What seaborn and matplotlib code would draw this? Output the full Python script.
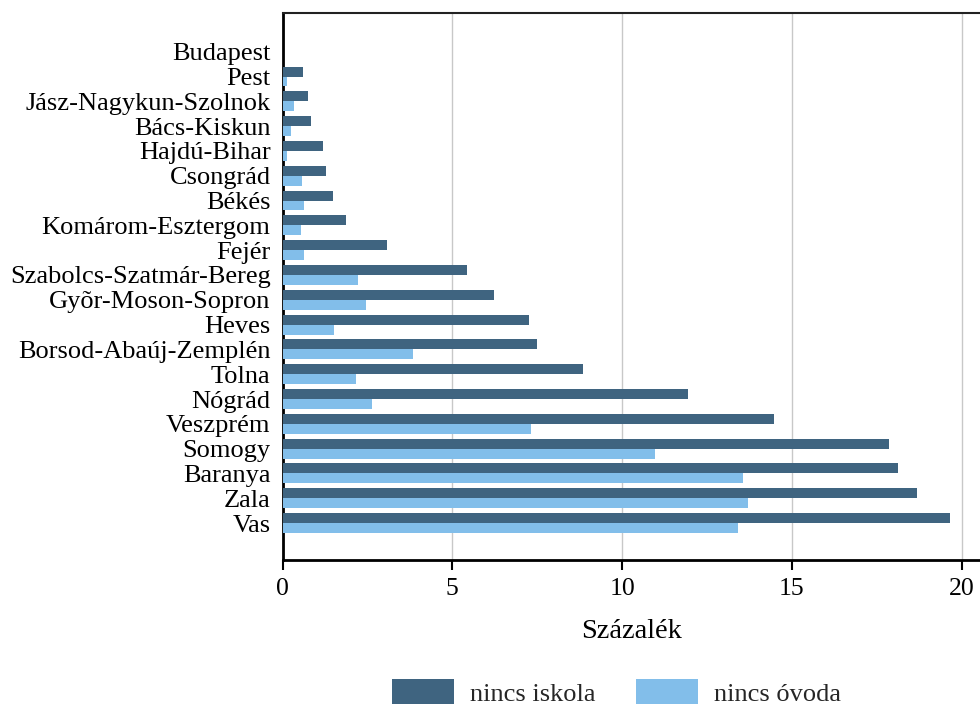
import matplotlib
matplotlib.use("Agg")
import matplotlib.pyplot as plt
import seaborn as sns
import pandas as pd

counties = ["Budapest", "Pest", "Jász-Nagykun-Szolnok", "Bács-Kiskun", "Hajdú-Bihar",
            "Csongrád", "Békés", "Komárom-Esztergom", "Fejér", "Szabolcs-Szatmár-Bereg",
            "Gyõr-Moson-Sopron", "Heves", "Borsod-Abaúj-Zemplén", "Tolna", "Nógrád",
            "Veszprém", "Somogy", "Baranya", "Zala", "Vas"]
nincs_iskola = [0.0, 0.60, 0.75, 0.84, 1.19, 1.28, 1.49, 1.87, 3.07, 5.43,
                6.23, 7.26, 7.49, 8.86, 11.94, 14.48, 17.86, 18.13, 18.68, 19.65]
nincs_ovoda = [0.0, 0.13, 0.34, 0.25, 0.13, 0.57, 0.63, 0.54, 0.64, 2.21,
               2.45, 1.52, 3.84, 2.16, 2.64, 7.32, 10.97, 13.56, 13.71, 13.40]
series_names = ["nincs iskola", "nincs óvoda"]
xticks = [0, 5, 10, 15, 20]
xlabel = "Százalék"

df = pd.DataFrame({
    "megye": counties * 2,
    "érték": nincs_iskola + nincs_ovoda,
    "sorozat": [series_names[0]] * len(counties) + [series_names[1]] * len(counties),
})

sns.set_theme(style="white")
plt.rcParams["font.family"] = ["Liberation Serif", "DejaVu Serif"]

fig = plt.figure(figsize=(9.8, 7.04), dpi=100)
ax = fig.add_axes([282.5 / 980, 1 - 560 / 704, 1 - 282.5 / 980, (560 - 13) / 704])

sns.barplot(data=df, x="érték", y="megye", hue="sorozat", orient="y",
            palette=["#3F6480", "#82BEEA"], width=0.8, saturation=1,
            linewidth=0, ax=ax, zorder=3)

ax.set_xlim(0, 20.54)
ax.set_ylim(20.49, -1.56)
ax.set_xticks(xticks)
ax.set_xticklabels([str(t) for t in xticks])
ax.set_xlabel(xlabel, fontsize=20.5, color="black", labelpad=14)
ax.set_ylabel("")
ax.tick_params(axis="x", direction="out", length=7.2, width=1.5, color="black",
               labelsize=18.5, labelcolor="black", pad=5.5, bottom=True)
ax.tick_params(axis="y", length=0, labelsize=19, labelcolor="black", pad=8.6)

ax.grid(axis="x", color="#c8c8c8", linewidth=1, zorder=0)
ax.grid(axis="y", visible=False)
ax.set_axisbelow(True)

for s in ["left", "bottom"]:
    ax.spines[s].set_color("black")
    ax.spines[s].set_linewidth(2)
ax.spines["top"].set_color("#222222")
ax.spines["top"].set_linewidth(1.5)
ax.spines["right"].set_visible(False)

handles, labels = ax.get_legend_handles_labels()
ax.get_legend().remove()
fig.legend(handles, labels, loc="upper left", bbox_to_anchor=(392 / 980, 1 - 679 / 704),
           bbox_transform=fig.transFigure, ncol=2, frameon=False, fontsize=19,
           handlelength=2.36, handleheight=1.12, handletextpad=0.61, columnspacing=1.52,
           borderpad=0, borderaxespad=0)

fig.savefig("out.png", dpi=100)
